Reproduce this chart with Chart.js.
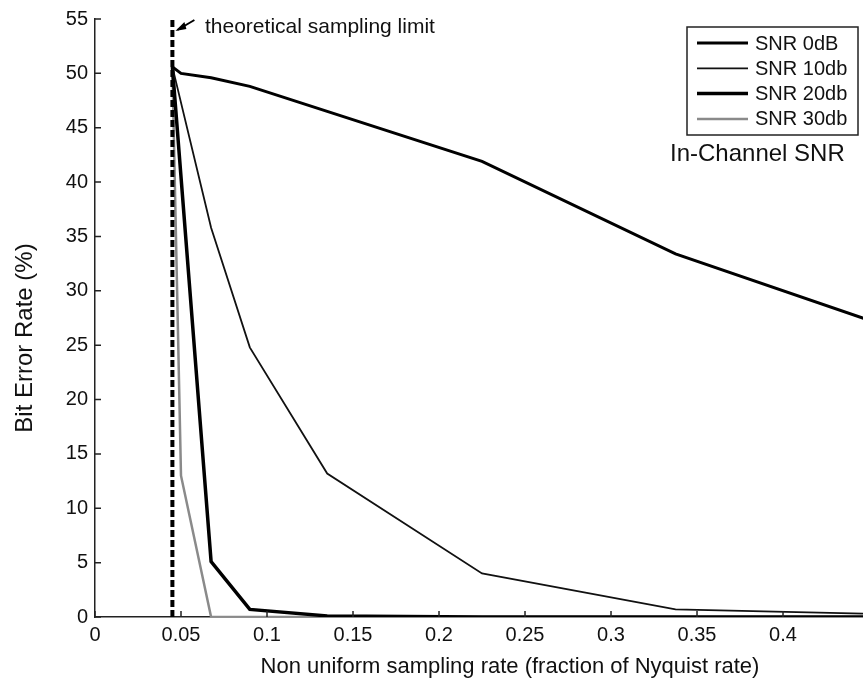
<!DOCTYPE html>
<html>
<head>
<meta charset="utf-8">
<script src="https://cdn.jsdelivr.net/npm/chart.js@4"></script>
<style>
  body { margin: 0; background: #fff; }
  #wrap { width: 863px; height: 686px; }
</style>
</head>
<body>
<div id="wrap"><canvas id="berChart"></canvas></div>
<script>
// sampling rate (fraction of Nyquist) and bit error rate (%) per in-channel SNR
const seriesNames = ['SNR 0dB', 'SNR 10db', 'SNR 20db', 'SNR 30db'];
const rates0 = [0.045, 0.05, 0.0675, 0.09, 0.135, 0.225, 0.3375, 0.45];
const ber0 = [50.6, 50.0, 49.6, 48.8, 46.5, 41.9, 33.4, 27.3];
const rates10 = [0.045, 0.0675, 0.09, 0.135, 0.225, 0.3375, 0.45];
const ber10 = [50.6, 35.8, 24.8, 13.2, 4.0, 0.7, 0.3];
const rates20 = [0.045, 0.0675, 0.09, 0.135, 0.225, 0.3375, 0.45];
const ber20 = [50.6, 5.1, 0.7, 0.1, 0, 0, 0];
const rates30 = [0.045, 0.05, 0.0675, 0.09, 0.135, 0.225, 0.3375, 0.45];
const ber30 = [50.6, 13.0, 0, 0, 0, 0, 0, 0];
const limitRate = 0.045;
const limitLabel = 'theoretical sampling limit';
const legendTitle = 'In-Channel SNR';
const xTitle = 'Non uniform sampling rate (fraction of Nyquist rate)';
const yTitle = 'Bit Error Rate (%)';

const FONT = "'Liberation Sans', Arial, sans-serif";

function pts(xs, ys) {
    return xs.map(function (x, i) { return {x: x, y: ys[i]}; });
}

const lineStyles = [
    {color: '#000000', width: 3},
    {color: '#111111', width: 1.8},
    {color: '#000000', width: 3.5},
    {color: '#8a8a8a', width: 2.5}
];

const curves = [pts(rates0, ber0), pts(rates10, ber10), pts(rates20, ber20), pts(rates30, ber30)];

const datasets = [{
    label: 'limit',
    data: [{x: limitRate, y: 0}, {x: limitRate, y: 55}],
    borderColor: '#000',
    borderWidth: 4,
    borderDash: [7, 3],
    pointRadius: 0,
    showLine: true
}];
curves.forEach(function (c, i) {
    datasets.push({
        label: seriesNames[i],
        data: c,
        borderColor: lineStyles[i].color,
        borderWidth: lineStyles[i].width,
        pointRadius: 0,
        showLine: true,
        tension: 0
    });
});

// white page, inward ticks, axis titles, legend box and the annotation
const extras = {
    id: 'extras',
    beforeDraw: function (chart) {
        const ctx = chart.ctx;
        ctx.save();
        ctx.fillStyle = '#fff';
        ctx.fillRect(0, 0, chart.width, chart.height);
        ctx.restore();
    },
    afterDraw: function (chart) {
        const ctx = chart.ctx;
        const xs = chart.scales.x, ys = chart.scales.y;
        const area = chart.chartArea;
        ctx.save();
        ctx.strokeStyle = '#222';
        ctx.lineWidth = 1.5;
        ctx.beginPath();
        xs.ticks.forEach(function (t) {
            const px = xs.getPixelForValue(t.value);
            ctx.moveTo(px, area.bottom);
            ctx.lineTo(px, area.bottom - 6);
        });
        ys.ticks.forEach(function (t) {
            const py = ys.getPixelForValue(t.value);
            ctx.moveTo(area.left, py);
            ctx.lineTo(area.left + 6, py);
        });
        ctx.stroke();

        // axis titles
        ctx.fillStyle = '#111';
        ctx.font = '22px ' + FONT;
        ctx.textAlign = 'center';
        ctx.textBaseline = 'alphabetic';
        ctx.fillText(xTitle, 510, 673);
        ctx.save();
        ctx.translate(25, 338);
        ctx.rotate(-Math.PI / 2);
        ctx.font = '24px ' + FONT;
        ctx.textBaseline = 'middle';
        ctx.fillText(yTitle, 0, 0);
        ctx.restore();
        ctx.textAlign = 'left';

        // legend
        ctx.lineWidth = 1.5;
        ctx.strokeStyle = '#222';
        ctx.strokeRect(687, 27, 171, 108);
        ctx.font = '20px ' + FONT;
        ctx.fillStyle = '#111';
        ctx.textBaseline = 'middle';
        seriesNames.forEach(function (name, i) {
            const y = 43 + i * 25.3;
            ctx.beginPath();
            ctx.strokeStyle = lineStyles[i].color;
            ctx.lineWidth = lineStyles[i].width;
            ctx.moveTo(697, y);
            ctx.lineTo(748, y);
            ctx.stroke();
            ctx.fillText(name, 755, y + 1);
        });
        ctx.font = '24px ' + FONT;
        ctx.fillText(legendTitle, 670, 154);

        // annotation with arrow
        const lx = xs.getPixelForValue(limitRate);
        ctx.font = '21px ' + FONT;
        ctx.textBaseline = 'alphabetic';
        ctx.fillText(limitLabel, 205, 33);
        ctx.strokeStyle = '#000';
        ctx.lineWidth = 2;
        ctx.beginPath();
        ctx.moveTo(lx + 22, 20);
        ctx.lineTo(lx + 5, 30);
        ctx.stroke();
        ctx.beginPath();
        ctx.fillStyle = '#000';
        ctx.moveTo(lx + 3, 31);
        ctx.lineTo(lx + 12, 22);
        ctx.lineTo(lx + 14, 29);
        ctx.closePath();
        ctx.fill();
        ctx.restore();
    }
};

new Chart(document.getElementById('berChart'), {
    type: 'scatter',
    data: {datasets: datasets},
    plugins: [extras],
    options: {
        responsive: true,
        maintainAspectRatio: false,
        animation: false,
        devicePixelRatio: 1,
        layout: {padding: {top: 18, right: 0, left: 0, bottom: 0}},
        plugins: {
            legend: {display: false},
            tooltip: {enabled: false}
        },
        scales: {
            x: {
                type: 'linear',
                min: 0,
                max: 0.4465,
                afterFit: function (s) { s.height = 69; },
                border: {display: true, color: '#222', width: 1.5},
                grid: {display: true, drawOnChartArea: false, drawTicks: false},
                ticks: {
                    stepSize: 0.05,
                    includeBounds: false,
                    padding: 6,
                    color: '#111',
                    font: {family: FONT, size: 20},
                    maxRotation: 0,
                    callback: function (v) { return String(Math.round(v * 100) / 100); }
                }
            },
            y: {
                min: 0,
                max: 55,
                afterFit: function (s) { s.width = 95; },
                border: {display: true, color: '#222', width: 1.5},
                grid: {display: true, drawOnChartArea: false, drawTicks: false},
                ticks: {
                    stepSize: 5,
                    padding: 7,
                    color: '#111',
                    font: {family: FONT, size: 20}
                }
            }
        }
    }
});
</script>
</body>
</html>
